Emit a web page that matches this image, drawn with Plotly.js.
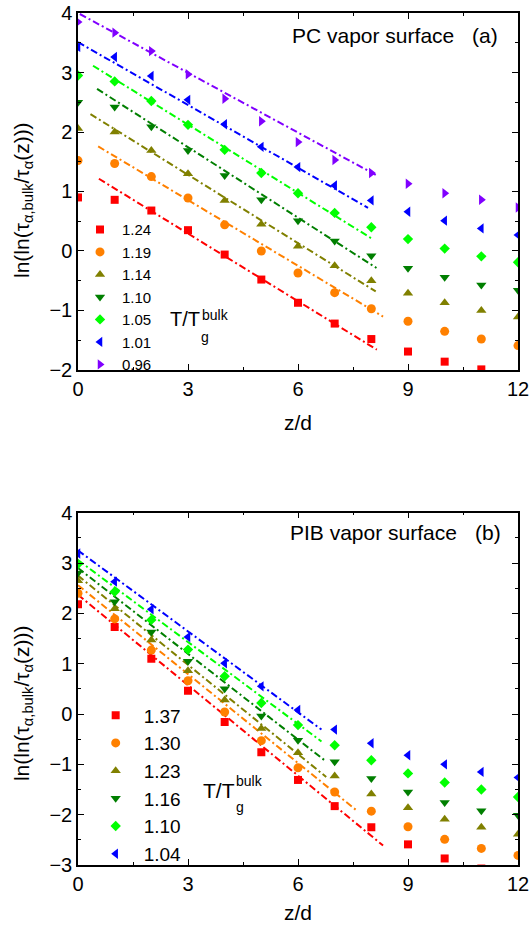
<!DOCTYPE html>
<html><head><meta charset="utf-8">
<script src="https://cdn.plot.ly/plotly-3.0.1.min.js"></script>
<style>html,body{margin:0;padding:0;background:#fff;}#chart{width:530px;height:928px;}</style>
</head><body><div id="chart"></div>
<script>
// ---------- data ----------
const zPos = [0,1,2,3,4,5,6,7,8,9,10,11,12];

// Panel (a): PC vapor surface, T/Tg_bulk
const pcLabels = ['1.24','1.19','1.14','1.10','1.05','1.01','0.96'];
const pc124 = [0.90, 0.86, 0.68, 0.35, -0.06, -0.48, -0.87, -1.22, -1.48, -1.69, -1.86, -1.99, null];
const pc119 = [1.52, 1.47, 1.25, 0.89, 0.44, 0.00, -0.37, -0.70, -0.97, -1.18, -1.35, -1.48, -1.59];
const pc114 = [2.06, 2.00, 1.69, 1.30, 0.85, 0.45, 0.08, -0.25, -0.50, -0.71, -0.87, -1.00, -1.11];
const pc110 = [2.50, 2.42, 2.09, 1.69, 1.27, 0.86, 0.51, 0.17, -0.08, -0.29, -0.44, -0.57, -0.66];
const pc105 = [2.95, 2.85, 2.52, 2.12, 1.70, 1.31, 0.97, 0.64, 0.40, 0.20, 0.04, -0.09, -0.19];
const pc101 = [3.43, 3.26, 2.94, 2.54, 2.13, 1.75, 1.41, 1.10, 0.85, 0.66, 0.51, 0.38, 0.27];
const pc096 = [3.85, 3.67, 3.36, 2.97, 2.56, 2.18, 1.83, 1.53, 1.31, 1.13, 0.97, 0.86, 0.73];
// linear fits (dash-dot lines): slope, intercept, z-range
const pcFitSlope     = [-0.379, -0.368, -0.383, -0.395, -0.382, -0.352, -0.335];
const pcFitIntercept = [ 1.43,   1.96,   2.43,   2.93,   3.27,   3.51,   4.00];
const pcFitStart     = [ 0.57,   0.55,   0.34,   0.52,   0.41,   0.00,   0.05];
const pcFitEnd       = [ 8.15,   8.32,   8.12,   8.14,   8.00,   7.91,   8.12];

// Panel (b): PIB vapor surface
const pibLabels = ['1.37','1.30','1.23','1.16','1.10','1.04'];
const pib137 = [2.18, 1.73, 1.10, 0.46, -0.16, -0.76, -1.31, -1.83, -2.25, -2.59, -2.87, -3.07, null];
const pib130 = [2.40, 1.89, 1.27, 0.66, 0.04, -0.53, -1.07, -1.55, -1.93, -2.24, -2.49, -2.67, -2.81];
const pib123 = [2.65, 2.09, 1.47, 0.86, 0.28, -0.29, -0.77, -1.23, -1.59, -1.86, -2.09, -2.25, -2.39];
const pib116 = [2.80, 2.23, 1.63, 1.05, 0.50, -0.04, -0.52, -0.95, -1.28, -1.55, -1.76, -1.92, -2.01];
const pib110 = [2.98, 2.43, 1.87, 1.28, 0.75, 0.22, -0.22, -0.62, -0.92, -1.18, -1.36, -1.50, -1.65];
const pib104 = [3.19, 2.63, 2.08, 1.53, 1.01, 0.55, 0.08, -0.31, -0.58, -0.82, -1.00, -1.15, -1.26];
const pibFitSlope     = [-0.599, -0.589, -0.591, -0.568, -0.543, -0.536];
const pibFitIntercept = [ 2.37,   2.56,   2.75,   2.90,   3.06,   3.25];
const pibFitStart     = [ 0,      0,      0,      0,      0,      0   ];
const pibFitEnd       = [ 8.32,   7.59,   6.77,   6.77,   6.64,   6.64];

// ---------- styles ----------
const pcSeries  = [pc124, pc119, pc114, pc110, pc105, pc101, pc096];
const pibSeries = [pib137, pib130, pib123, pib116, pib110, pib104];
const pcColors  = ['#ff0000','#ff8000','#808000','#007f00','#00ff00','#0000ff','#8000ff'];
const pcSymbols = ['square','circle','triangle-up','triangle-down','diamond','triangle-left','triangle-right'];
const pcSizes   = [8,9,9,9,8,9,9];
const FONT = 'Arial, "Liberation Sans", Helvetica, sans-serif';
const DASH = '7px,3px,2px,3px';

const traces = [];
function addPanel(series, labels, slope, icpt, z0, z1, xa, ya, leg) {
  series.forEach((vals, i) => {
    traces.push({
      x: [z0[i], z1[i]], y: [icpt[i] + slope[i]*z0[i], icpt[i] + slope[i]*z1[i]],
      xaxis: xa, yaxis: ya, mode: 'lines', showlegend: false, hoverinfo: 'skip',
      line: {color: pcColors[i], width: 2, dash: DASH}
    });
  });
  series.forEach((vals, i) => {
    traces.push({
      x: zPos, y: vals, xaxis: xa, yaxis: ya, mode: 'markers', name: labels[i],
      legend: leg,
      marker: {color: pcColors[i], symbol: pcSymbols[i], size: pcSizes[i], line: {width: 0}}
    });
  });
}
addPanel(pcSeries, pcLabels, pcFitSlope, pcFitIntercept, pcFitStart, pcFitEnd, 'x', 'y', 'legend');
addPanel(pibSeries, pibLabels, pibFitSlope, pibFitIntercept, pibFitStart, pibFitEnd, 'x2', 'y2', 'legend2');

const axisBase = {
  showline: true, linecolor: '#000', linewidth: 1.5, mirror: 'ticks',
  ticks: 'inside', ticklen: 6, tickwidth: 1.2, tickcolor: '#000',
  showgrid: false, zeroline: false,
  tickfont: {family: FONT, size: 20, color: '#000'}
};
function xax(anchor, standoff) {
  return Object.assign({}, axisBase, {
    anchor: anchor, domain: [0,1], range: [0,12], tickvals: [0,3,6,9,12],
    minor: {ticks: 'inside', ticklen: 3, tickwidth: 1.2, tickcolor: '#000', dtick: 1.5, tick0: 0},
    title: {text: 'z/d', font: {family: FONT, size: 21, color: '#000'}, standoff: standoff}
  });
}
function yax(anchor, dom, rng, tv) {
  return Object.assign({}, axisBase, {
    anchor: anchor, domain: dom, range: rng, tickvals: tv,
    minor: {ticks: 'inside', ticklen: 3, tickwidth: 1.2, tickcolor: '#000', dtick: 0.5, tick0: 0}
  });
}

const ytitle = 'ln(ln(τ<sub>α,bulk</sub>/τ<sub>α</sub>(z)))';
const annF = (s) => ({family: FONT, size: s, color: '#000'});
const ann = (xr, yr, x, y, text, size, xa, extra) => Object.assign({
  xref: xr, yref: yr, x: x, y: y, text: text, showarrow: false, font: annF(size),
  xanchor: xa, yanchor: 'middle', borderpad: 0
}, extra || {});
const annotations = [
  ann('paper','paper', -0.125, 0.7805, ytitle, 21, 'center', {textangle: -90}),
  ann('paper','paper', -0.125, 0.190, ytitle, 21, 'center', {textangle: -90}),
  ann('x','y', 5.82, 3.62, 'PC vapor surface', 21, 'left'),
  ann('x','y', 11.48, 3.62, '(a)', 21, 'right'),
  ann('x2','y2', 5.75, 3.60, 'PIB vapor surface', 21, 'left'),
  ann('x2','y2', 11.55, 3.60, '(b)', 21, 'right'),
  ann('x','y', 2.48, -1.14, 'T/T', 20, 'left'),
  ann('x','y', 3.36, -1.07, 'bulk', 14, 'left'),
  ann('x','y', 3.33, -1.44, 'g', 14, 'left'),
  ann('x2','y2', 3.37, -1.52, 'T/T', 21, 'left'),
  ann('x2','y2', 4.29, -1.33, 'bulk', 14, 'left'),
  ann('x2','y2', 4.27, -1.85, 'g', 14, 'left')
];

const layout = {
  width: 530, height: 928,
  margin: {l: 78, r: 12, t: 13, b: 63},
  paper_bgcolor: '#fff', plot_bgcolor: '#fff',
  font: {family: FONT, color: '#000'},
  xaxis: xax('y', 17),
  yaxis: yax('x', [0.581, 1], [-2, 4], [-2,-1,0,1,2,3,4]),
  xaxis2: xax('y2', 12),
  yaxis2: yax('x2', [0, 0.4135], [-3, 4], [-3,-2,-1,0,1,2,3,4]),
  legend: {x: 0, y: 0.7651, xanchor: 'left', yanchor: 'top', bgcolor: 'rgba(0,0,0,0)',
           font: {family: FONT, size: 15, color: '#000'}, tracegroupgap: 0, itemwidth: 34, itemclick: false},
  legend2: {x: 0.022, y: 0.1979, xanchor: 'left', yanchor: 'top', bgcolor: 'rgba(0,0,0,0)',
           font: {family: FONT, size: 19, color: '#000'}, tracegroupgap: 0, itemwidth: 46, itemclick: false},
  annotations: annotations,
  showlegend: true
};

Plotly.newPlot('chart', traces, layout, {displayModeBar: false, responsive: false});
</script>
</body></html>
